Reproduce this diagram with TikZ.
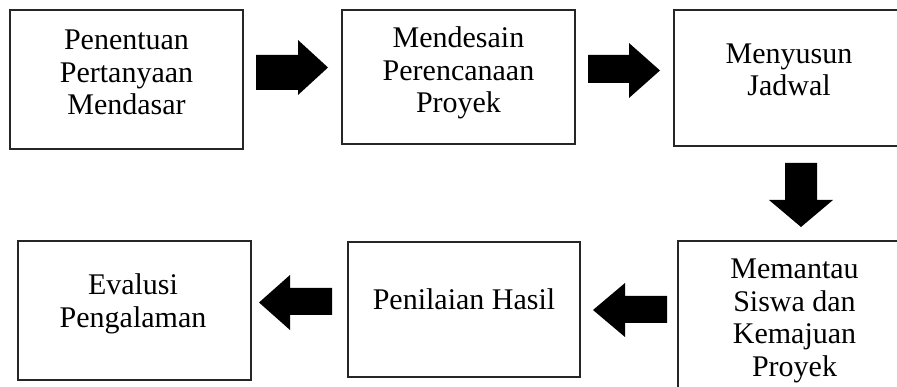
\documentclass[tikz,border=0pt]{standalone}
\usepackage{fontspec}
\setmainfont{Liberation Serif}
\begin{document}
\begin{tikzpicture}[x=1pt,y=-1pt,
  box/.style={draw=black!85, line width=1.3pt, inner sep=0pt, outer sep=0pt},
  txt/.style={font=\fontsize{30}{32.5}\selectfont, align=center, anchor=north, inner sep=0pt},
  blk/.style={fill=black}]
\clip (0,0) rectangle (897,387);
% boxes
\node[box, minimum width=233pt, minimum height=139pt] (b1) at (126.5,79.5) {};
\node[box, minimum width=233pt, minimum height=134pt] (b2) at (458.5,77) {};
\node[box, minimum width=236pt, minimum height=136pt] (b3) at (792,78) {};
\node[box, minimum width=233pt, minimum height=159pt] (b4) at (794.5,320.5) {};
\node[box, minimum width=232pt, minimum height=135pt] (b5) at (464,309.5) {};
\node[box, minimum width=233pt, minimum height=139pt] (b6) at (134.5,310.5) {};
% texts
\node[txt] (t1) at (126.5,30) {Penentuan\\Pertanyaan\\Mendasar};
\node[txt] (t2) at (458.5,26.5) {Mendesain\\Perencanaan\\Proyek};
\node[txt] (t3) at (789,43.5) {Menyusun\\Jadwal};
\node[txt] (t4) at (794.5,259) {Memantau\\Siswa dan\\Kemajuan\\Proyek};
\node[txt] (t5) at (464,288) {Penilaian Hasil};
\node[txt] (t6) at (133,273.5) {Evalusi\\Pengalaman};
% block arrows
\fill[blk] (256,55) -- (298,55) -- (298,40) -- (328,67.5) -- (298,95) -- (298,90) -- (256,90) -- cycle;
\fill[blk] (588,55) -- (629,55) -- (629,43) -- (660,70.5) -- (629,98) -- (629,83) -- (588,83) -- cycle;
\fill[blk] (785,163) -- (817,163) -- (817,200) -- (833,200) -- (801,227) -- (769,200) -- (785,200) -- cycle;
\fill[blk] (667,296) -- (625,296) -- (625,283) -- (593,310) -- (625,337) -- (625,323) -- (667,323) -- cycle;
\fill[blk] (332,288) -- (290,288) -- (290,275) -- (259,302.5) -- (290,330) -- (290,315) -- (332,315) -- cycle;
\end{tikzpicture}
\end{document}
